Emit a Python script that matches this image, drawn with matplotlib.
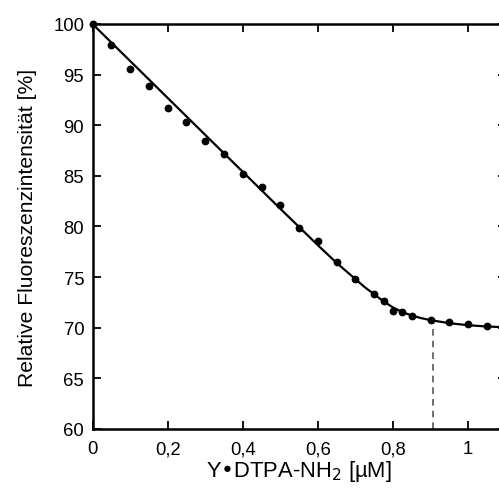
import matplotlib

matplotlib.use("Agg")
import matplotlib.pyplot as plt  # noqa: E402

plt.rcParams["font.family"] = ["Liberation Sans", "DejaVu Sans"]

# Messpunkte
x_conc = [0.0, 0.05, 0.10, 0.15, 0.20, 0.25, 0.30, 0.35, 0.40, 0.45, 0.50,
          0.55, 0.60, 0.65, 0.70, 0.75, 0.775, 0.80, 0.825, 0.85, 0.90,
          0.95, 1.00, 1.05]
y_fluor = [100.0, 97.9, 95.6, 93.9, 91.7, 90.35, 88.45, 87.2, 85.2, 83.9,
           82.1, 79.85, 78.55, 76.45, 74.8, 73.3, 72.6, 71.7, 71.55, 71.15,
           70.8, 70.55, 70.35, 70.2]

# Fitkurve
fit_x = [0.0, 0.1, 0.2, 0.3, 0.4, 0.5, 0.55, 0.6, 0.65, 0.7, 0.725, 0.75,
         0.775, 0.8, 0.825, 0.85, 0.875, 0.9, 0.95, 1.0, 1.05, 1.1]
fit_y = [100.0, 96.35, 92.7, 89.05, 85.4, 81.75, 79.95, 78.15, 76.4, 74.8,
         74.0, 73.3, 72.6, 72.0, 71.55, 71.2, 70.95, 70.75, 70.45, 70.25,
         70.12, 70.05]

x_eq = 0.907
y_eq = 70.75

xticks = [0.0, 0.2, 0.4, 0.6, 0.8, 1.0]
xtick_labels = ["0", "0,2", "0,4", "0,6", "0,8", "1"]
yticks = [60, 65, 70, 75, 80, 85, 90, 95, 100]

fig = plt.figure(figsize=(4.99, 4.89), dpi=100)
ax = fig.add_axes([0.1854, 0.1207, 0.828, 0.8282])

ax.plot(fit_x, fit_y, color="black", lw=1.6, zorder=3)
ax.plot(x_conc, y_fluor, "o", color="black", ms=4.6, clip_on=False, zorder=4)
ax.plot([x_eq, x_eq], [60, y_eq], ls=(0, (4, 3)), color="#555555", lw=1.2,
        zorder=2)

ax.set_xlim(0, 1.1)
ax.set_ylim(60, 100)
ax.set_xticks(xticks)
ax.set_xticklabels(xtick_labels)
ax.set_yticks(yticks)

for s in ax.spines.values():
    s.set_linewidth(1.8)
ax.tick_params(direction="in", top=True, right=True, length=5.5, width=1.3,
               labelsize=13.3)
ax.tick_params(axis="x", pad=8)
ax.tick_params(axis="y", pad=6)

ax.set_xlabel("Y•DTPA-NH$_2$ [µM]", fontsize=15.8, labelpad=1)
ax.set_ylabel("Relative Fluoreszenzintensität [%]", fontsize=15.2, labelpad=12)

fig.savefig("out.png", dpi=100)
